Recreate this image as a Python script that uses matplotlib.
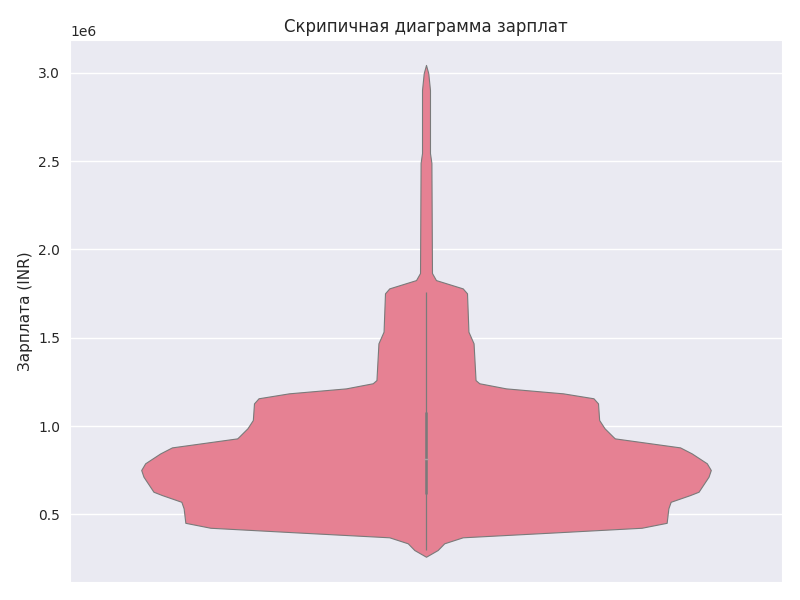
import matplotlib
matplotlib.use("Agg")
import matplotlib.pyplot as plt
import seaborn as sns
import numpy as np

# контур скрипки: зарплата (INR) и относительная полуширина (макс = 1)
salary = [260000, 298000, 336000, 370000, 397000, 424000, 452000, 534000,
          571000, 609000, 628000, 713000, 751000, 789000, 845000, 879000,
          930000, 939000, 987000, 1034000, 1128000, 1157000, 1185000,
          1213000, 1242000, 1260000, 1468000, 1534000, 1751000, 1779000,
          1826000, 1866000, 2489000, 2545000, 2902000, 2997000, 3044000]
density = [0.0, 0.041, 0.064, 0.129, 0.446, 0.757, 0.845, 0.851,
           0.859, 0.927, 0.957, 0.992, 1.0, 0.986, 0.933, 0.892,
           0.663, 0.657, 0.627, 0.608, 0.604, 0.588, 0.481,
           0.281, 0.187, 0.174, 0.167, 0.149, 0.144, 0.129,
           0.035, 0.021, 0.019, 0.014, 0.014, 0.008, 0.0]

# статистика для внутреннего "ящика"
whisk_low, q1, median, q3, whisk_high = 298000, 613000, 813000, 1079000, 1758000

sns.set_style("darkgrid")
plt.rcParams["xtick.labelsize"] = 10
plt.rcParams["ytick.labelsize"] = 10
plt.rcParams["axes.labelsize"] = 11
plt.rcParams["axes.titlesize"] = 12
plt.rcParams["grid.linewidth"] = 1.0

fig, ax = plt.subplots(figsize=(8, 6), dpi=100)
fig.subplots_adjust(left=0.0875, right=0.9775, bottom=0.03, top=0.9333)

fill = "#e68193"
line = "#7a7a7a"
half = np.array(density) * 0.4
ax.fill_betweenx(salary, -half, half, facecolor=fill, edgecolor=line, linewidth=0.8, zorder=2)

# усы и ящик
ax.plot([0, 0], [whisk_low, whisk_high], color=line, lw=0.9, zorder=3, solid_capstyle="butt")
ax.plot([0, 0], [q1, q3], color=line, lw=1.8, zorder=4, solid_capstyle="butt")
ax.plot([0], [median], marker="_", color="#b0a0a4", markersize=2.5, mew=1, zorder=5)

ax.set_xlim(-0.5, 0.5)
ax.set_ylim(117000, 3185000)
ax.set_xticks([])
ax.set_title("Скрипичная диаграмма зарплат")
ax.set_ylabel("Зарплата (INR)")

fig.savefig("out.png", dpi=100)
